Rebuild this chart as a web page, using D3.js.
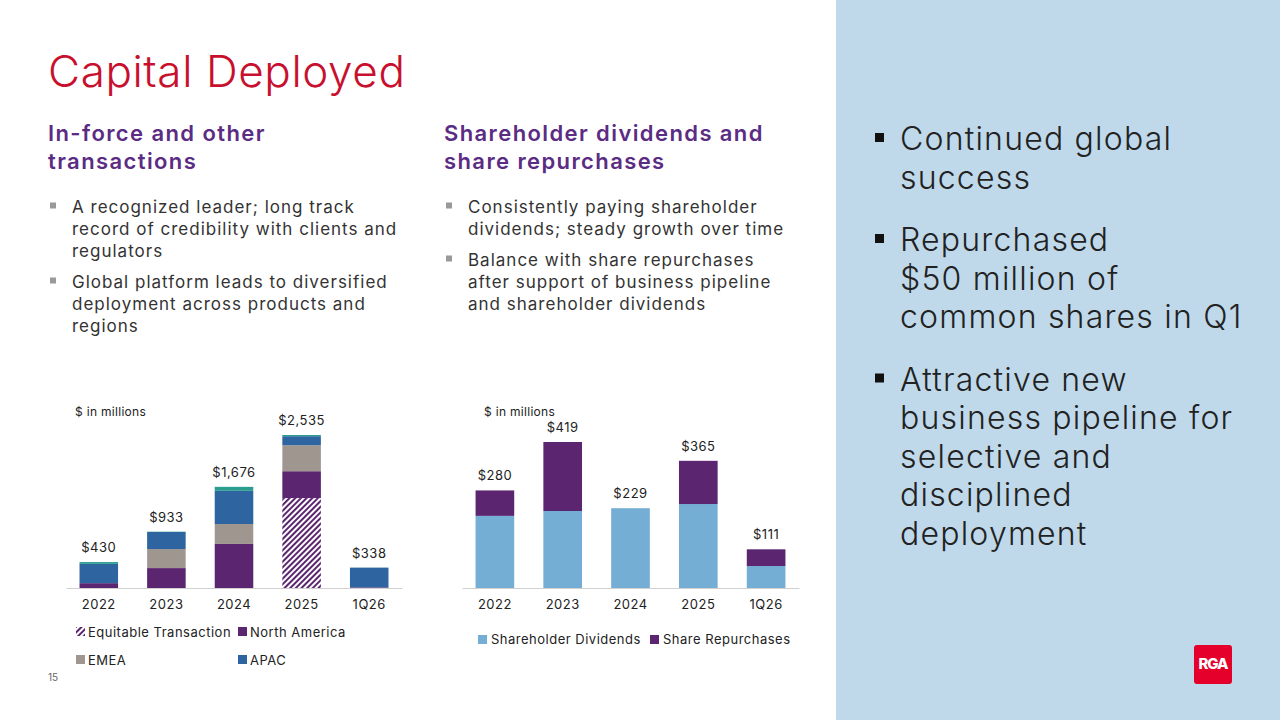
<!DOCTYPE html><html><head><meta charset="utf-8">
<script src="https://cdn.jsdelivr.net/npm/d3@7"></script>
<style>body{margin:0;font-family:Inter,"Open Sans",sans-serif}svg{display:block}</style></head><body>
<svg id="c" width="1280" height="720"></svg>
<script>
const years=["2022","2023","2024","2025","1Q26"];
const equitable=[0,0,0,1490,0];
const northAmerica=[80,330,730,445,10];
const emea=[0,315,330,430,0];
const apac=[320,283,550,150,328];
const other=[30,5,66,20,0];
const totalsLeft=["$430","$933","$1,676","$2,535","$338"];
const dividends=[207,221,229,241,63];
const repurchases=[73,198,0,124,48];
const totalsRight=["$280","$419","$229","$365","$111"];

const svg=d3.select("#c");
svg.append("rect").attr("width",1280).attr("height",720).attr("fill","#fff");
svg.append("rect").attr("x",836).attr("width",444).attr("height",720).attr("fill","#bfd9ea");
const defs=svg.append("defs");
const pat=defs.append("pattern").attr("id","hatch").attr("patternUnits","userSpaceOnUse").attr("width",4).attr("height",4).attr("patternTransform","rotate(45)");
pat.append("rect").attr("width",4).attr("height",4).attr("fill","#fff");
pat.append("rect").attr("width",2).attr("height",4).attr("fill","#5b2570");

svg.append("text").attr("x",48).attr("y",87).attr("font-size",44).attr("font-weight",300).attr("letter-spacing",0.6).attr("fill","#c8102e").text("Capital Deployed");
function lines(x,y,arr,size,color,weight,lh,ls){const t=svg.append("text").attr("font-size",size).attr("fill",color).attr("font-weight",weight).attr("letter-spacing",ls||0);arr.forEach((s,i)=>t.append("tspan").attr("x",x).attr("y",y+i*lh).text(s));}
lines(48,141,["In-force and other","transactions"],22,"#5b2c83",600,28,1.4);
lines(444,141,["Shareholder dividends and","share repurchases"],22,"#5b2c83",600,28,1.4);
function bullets(x,y,groups,size,lh,gap,mark,msize,col){let yy=y;groups.forEach(g=>{svg.append("rect").attr("x",x).attr("y",yy-msize-(size-msize)/2+1).attr("width",msize).attr("height",msize).attr("fill",mark);lines(x+22,yy,g,size,col,400,lh,1);yy+=g.length*lh+gap;});}
bullets(50,213,[["A recognized leader; long track","record of credibility with clients and","regulators"],["Global platform leads to diversified","deployment across products and","regions"]],17,22,9,"#999",6,"#333");
bullets(446,213,[["Consistently paying shareholder","dividends; steady growth over time"],["Balance with share repurchases","after support of business pipeline","and shareholder dividends"]],17,22,9,"#999",6,"#333");
let yy=150;[["Continued global","success"],["Repurchased","$50 million of","common shares in Q1"],["Attractive new","business pipeline for","selective and","disciplined","deployment"]].forEach(g=>{svg.append("rect").attr("x",875).attr("y",yy-17).attr("width",9).attr("height",9).attr("fill","#111");lines(900,yy,g,32,"#222",300,38.5,1.2);yy+=g.length*38.5+24;});

// left chart
const xL=d3.scaleBand().domain(years).range([66,402]).paddingInner(0.43).paddingOuter(0.2);
const yL=d3.scaleLinear().domain([0,2535]).range([588,435]);
const keysL=["equitable","northAmerica","emea","apac","other"];
const colL={equitable:"url(#hatch)",northAmerica:"#5b2570",emea:"#a09690",apac:"#2e64a0",other:"#2a9d8f"};
const dataL=years.map((y,i)=>({y,equitable:equitable[i],northAmerica:northAmerica[i],emea:emea[i],apac:apac[i],other:other[i]}));
d3.stack().keys(keysL)(dataL).forEach(s=>{svg.append("g").selectAll("rect").data(s).join("rect").attr("x",d=>xL(d.data.y)).attr("width",xL.bandwidth()).attr("y",d=>yL(d[1])).attr("height",d=>yL(d[0])-yL(d[1])).attr("fill",colL[s.key]);});
const axStyle=g=>{g.select(".domain").attr("stroke","#d0d0d0");g.selectAll("text").attr("font-size",13).attr("font-family","Inter,sans-serif").attr("letter-spacing",0.5).attr("fill","#222");};
svg.append("g").attr("transform","translate(0,588)").call(d3.axisBottom(xL).tickSize(0).tickPadding(12)).call(axStyle);
svg.selectAll(".tl").data(dataL).join("text").attr("text-anchor","middle").attr("x",d=>xL(d.y)+xL.bandwidth()/2).attr("y",(d,i)=>yL(d3.sum(keysL,k=>d[k]))-10).attr("font-size",13).attr("letter-spacing",0.5).attr("fill","#222").text((d,i)=>totalsLeft[i]);
svg.append("text").attr("x",75).attr("y",416).attr("font-size",12).attr("letter-spacing",0.3).attr("fill","#222").text("$ in millions");
const legL=[["Equitable Transaction","url(#hatch)",76,637],["North America","#5b2570",238,637],["EMEA","#a09690",76,665],["APAC","#2e64a0",238,665]];
legL.forEach(([t,c,x,y])=>{svg.append("rect").attr("x",x).attr("y",y-10).attr("width",9).attr("height",9).attr("fill",c);svg.append("text").attr("x",x+12).attr("y",y).attr("font-size",13).attr("letter-spacing",0.5).attr("fill","#222").text(t);});

// right chart
const xR=d3.scaleBand().domain(years).range([462,799]).paddingInner(0.43).paddingOuter(0.2);
const yR=d3.scaleLinear().domain([0,419]).range([588,442]);
const dataR=years.map((y,i)=>({y,dividends:dividends[i],repurchases:repurchases[i]}));
const colR={dividends:"#74aed4",repurchases:"#5b2570"};
d3.stack().keys(["dividends","repurchases"])(dataR).forEach(s=>{svg.append("g").selectAll("rect").data(s).join("rect").attr("x",d=>xR(d.data.y)).attr("width",xR.bandwidth()).attr("y",d=>yR(d[1])).attr("height",d=>yR(d[0])-yR(d[1])).attr("fill",colR[s.key]);});
svg.append("g").attr("transform","translate(0,588)").call(d3.axisBottom(xR).tickSize(0).tickPadding(12)).call(axStyle);
svg.selectAll(".tr").data(dataR).join("text").attr("text-anchor","middle").attr("x",d=>xR(d.y)+xR.bandwidth()/2).attr("y",d=>yR(d.dividends+d.repurchases)-10).attr("font-size",13).attr("letter-spacing",0.5).attr("fill","#222").text((d,i)=>totalsRight[i]);
svg.append("text").attr("x",484).attr("y",416).attr("font-size",12).attr("letter-spacing",0.3).attr("fill","#222").text("$ in millions");
[["Shareholder Dividends","#74aed4",478],["Share Repurchases","#5b2570",650]].forEach(([t,c,x])=>{svg.append("rect").attr("x",x).attr("y",635).attr("width",9).attr("height",9).attr("fill",c);svg.append("text").attr("x",x+13).attr("y",644).attr("font-size",13).attr("letter-spacing",0.5).attr("fill","#222").text(t);});

svg.append("text").attr("x",48).attr("y",681).attr("font-size",10).attr("fill","#666").text("15");
svg.append("rect").attr("x",1194).attr("y",645).attr("width",38).attr("height",39).attr("rx",3).attr("fill","#e4002b");
svg.append("text").attr("x",1213).attr("y",669).attr("text-anchor","middle").attr("font-size",15).attr("font-weight",800).attr("fill","#fff").attr("letter-spacing","-1").text("RGA");
</script></body></html>
